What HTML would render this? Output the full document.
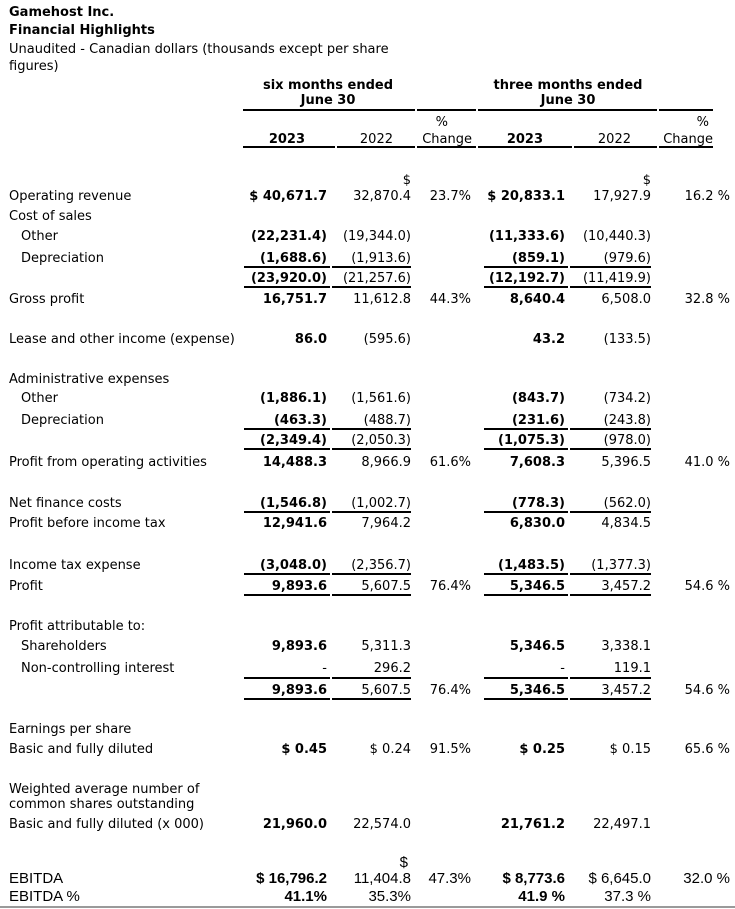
<!DOCTYPE html>
<html><head><meta charset="utf-8"><style>
body{margin:0;width:735px;height:909px;background:#fff;position:relative;overflow:hidden;font-family:"DejaVu Sans","Liberation Sans",sans-serif;font-size:13px;color:#000}
.t{position:absolute;line-height:16px;white-space:nowrap;margin-top:2px}
.b{font-weight:bold}
.l{position:absolute;height:2px;background:#000}
.d{position:absolute;height:2px;border-top:2px dotted #000;box-sizing:border-box}
.c{font-family:"Liberation Sans",sans-serif;font-size:15px}
</style></head><body>
<div class="t b" style="left:9px;top:3px">Gamehost Inc.</div>
<div class="t b" style="left:9px;top:21px">Financial Highlights</div>
<div class="t" style="left:9px;top:40px">Unaudited - Canadian dollars (thousands except per share</div>
<div class="t" style="left:9px;top:57px">figures)</div>

<div class="t b" style="left:243px;width:170px;text-align:center;top:76px">six months ended</div>
<div class="t b" style="left:243px;width:170px;text-align:center;top:91px">June 30</div>
<div class="t b" style="left:478px;width:180px;text-align:center;top:76px">three months ended</div>
<div class="t b" style="left:478px;width:180px;text-align:center;top:91px">June 30</div>

<div class="l" style="left:243px;width:170px;top:109px"></div><div class="d" style="left:413px;width:6px;top:109px"></div>
<div class="l" style="left:419px;width:55px;top:109px"></div><div class="d" style="left:474px;width:6px;top:109px"></div>
<div class="l" style="left:480px;width:175px;top:109px"></div><div class="d" style="left:655px;width:6px;top:109px"></div>
<div class="l" style="left:661px;width:52px;top:109px"></div>

<div class="t" style="right:287px;top:113px">%</div>
<div class="t" style="right:26px;top:113px">%</div>
<div class="t b" style="right:430px;top:130px">2023</div>
<div class="t" style="right:342px;top:130px">2022</div>
<div class="t" style="right:263px;top:130px">Change</div>
<div class="t b" style="right:192px;top:130px">2023</div>
<div class="t" style="right:104px;top:130px">2022</div>
<div class="t" style="right:22px;top:130px">Change</div>

<div class="l" style="left:243px;width:90px;top:146px"></div><div class="d" style="left:333px;width:6px;top:146px"></div>
<div class="l" style="left:339px;width:74px;top:146px"></div><div class="d" style="left:413px;width:6px;top:146px"></div>
<div class="l" style="left:419px;width:55px;top:146px"></div><div class="d" style="left:474px;width:6px;top:146px"></div>
<div class="l" style="left:480px;width:90px;top:146px"></div><div class="d" style="left:570px;width:6px;top:146px"></div>
<div class="l" style="left:576px;width:79px;top:146px"></div><div class="d" style="left:655px;width:6px;top:146px"></div>
<div class="l" style="left:661px;width:52px;top:146px"></div>

<div class="t" style="right:324px;top:171px">$</div>
<div class="t" style="right:84px;top:171px">$</div>
<div class="t" style="left:9px;top:187px">Operating revenue</div>
<div class="t b" style="right:408px;top:187px">$ 40,671.7</div>
<div class="t" style="right:324px;top:187px">32,870.4</div>
<div class="t" style="right:264px;top:187px">23.7%</div>
<div class="t b" style="right:170px;top:187px">$ 20,833.1</div>
<div class="t" style="right:84px;top:187px">17,927.9</div>
<div class="t" style="right:5px;top:187px">16.2 %</div>

<div class="t" style="left:9px;top:207px">Cost of sales</div>
<div class="t" style="left:21px;top:227px">Other</div>
<div class="t b" style="right:408px;top:227px">(22,231.4)</div>
<div class="t" style="right:324px;top:227px">(19,344.0)</div>
<div class="t b" style="right:170px;top:227px">(11,333.6)</div>
<div class="t" style="right:84px;top:227px">(10,440.3)</div>
<div class="t" style="left:21px;top:249px">Depreciation</div>
<div class="t b" style="right:408px;top:249px">(1,688.6)</div>
<div class="t" style="right:324px;top:249px">(1,913.6)</div>
<div class="t b" style="right:170px;top:249px">(859.1)</div>
<div class="t" style="right:84px;top:249px">(979.6)</div>
<div class="t b" style="right:408px;top:269px">(23,920.0)</div>
<div class="t" style="right:324px;top:269px">(21,257.6)</div>
<div class="t b" style="right:170px;top:269px">(12,192.7)</div>
<div class="t" style="right:84px;top:269px">(11,419.9)</div>
<div class="t" style="left:9px;top:290px">Gross profit</div>
<div class="t b" style="right:408px;top:290px">16,751.7</div>
<div class="t" style="right:324px;top:290px">11,612.8</div>
<div class="t" style="right:264px;top:290px">44.3%</div>
<div class="t b" style="right:170px;top:290px">8,640.4</div>
<div class="t" style="right:84px;top:290px">6,508.0</div>
<div class="t" style="right:5px;top:290px">32.8 %</div>

<div class="t" style="left:9px;top:330px">Lease and other income (expense)</div>
<div class="t b" style="right:408px;top:330px">86.0</div>
<div class="t" style="right:324px;top:330px">(595.6)</div>
<div class="t b" style="right:170px;top:330px">43.2</div>
<div class="t" style="right:84px;top:330px">(133.5)</div>

<div class="t" style="left:9px;top:370px">Administrative expenses</div>
<div class="t" style="left:21px;top:389px">Other</div>
<div class="t b" style="right:408px;top:389px">(1,886.1)</div>
<div class="t" style="right:324px;top:389px">(1,561.6)</div>
<div class="t b" style="right:170px;top:389px">(843.7)</div>
<div class="t" style="right:84px;top:389px">(734.2)</div>
<div class="t" style="left:21px;top:411px">Depreciation</div>
<div class="t b" style="right:408px;top:411px">(463.3)</div>
<div class="t" style="right:324px;top:411px">(488.7)</div>
<div class="t b" style="right:170px;top:411px">(231.6)</div>
<div class="t" style="right:84px;top:411px">(243.8)</div>
<div class="t b" style="right:408px;top:431px">(2,349.4)</div>
<div class="t" style="right:324px;top:431px">(2,050.3)</div>
<div class="t b" style="right:170px;top:431px">(1,075.3)</div>
<div class="t" style="right:84px;top:431px">(978.0)</div>
<div class="t" style="left:9px;top:453px">Profit from operating activities</div>
<div class="t b" style="right:408px;top:453px">14,488.3</div>
<div class="t" style="right:324px;top:453px">8,966.9</div>
<div class="t" style="right:264px;top:453px">61.6%</div>
<div class="t b" style="right:170px;top:453px">7,608.3</div>
<div class="t" style="right:84px;top:453px">5,396.5</div>
<div class="t" style="right:5px;top:453px">41.0 %</div>

<div class="t" style="left:9px;top:494px">Net finance costs</div>
<div class="t b" style="right:408px;top:494px">(1,546.8)</div>
<div class="t" style="right:324px;top:494px">(1,002.7)</div>
<div class="t b" style="right:170px;top:494px">(778.3)</div>
<div class="t" style="right:84px;top:494px">(562.0)</div>
<div class="t" style="left:9px;top:514px">Profit before income tax</div>
<div class="t b" style="right:408px;top:514px">12,941.6</div>
<div class="t" style="right:324px;top:514px">7,964.2</div>
<div class="t b" style="right:170px;top:514px">6,830.0</div>
<div class="t" style="right:84px;top:514px">4,834.5</div>

<div class="t" style="left:9px;top:556px">Income tax expense</div>
<div class="t b" style="right:408px;top:556px">(3,048.0)</div>
<div class="t" style="right:324px;top:556px">(2,356.7)</div>
<div class="t b" style="right:170px;top:556px">(1,483.5)</div>
<div class="t" style="right:84px;top:556px">(1,377.3)</div>
<div class="t" style="left:9px;top:577px">Profit</div>
<div class="t b" style="right:408px;top:577px">9,893.6</div>
<div class="t" style="right:324px;top:577px">5,607.5</div>
<div class="t" style="right:264px;top:577px">76.4%</div>
<div class="t b" style="right:170px;top:577px">5,346.5</div>
<div class="t" style="right:84px;top:577px">3,457.2</div>
<div class="t" style="right:5px;top:577px">54.6 %</div>

<div class="t" style="left:9px;top:617px">Profit attributable to:</div>
<div class="t" style="left:21px;top:637px">Shareholders</div>
<div class="t b" style="right:408px;top:637px">9,893.6</div>
<div class="t" style="right:324px;top:637px">5,311.3</div>
<div class="t b" style="right:170px;top:637px">5,346.5</div>
<div class="t" style="right:84px;top:637px">3,338.1</div>
<div class="t" style="left:21px;top:659px">Non-controlling interest</div>
<div class="t" style="right:408px;top:659px">-</div>
<div class="t" style="right:324px;top:659px">296.2</div>
<div class="t" style="right:170px;top:659px">-</div>
<div class="t" style="right:84px;top:659px">119.1</div>
<div class="t b" style="right:408px;top:681px">9,893.6</div>
<div class="t" style="right:324px;top:681px">5,607.5</div>
<div class="t" style="right:264px;top:681px">76.4%</div>
<div class="t b" style="right:170px;top:681px">5,346.5</div>
<div class="t" style="right:84px;top:681px">3,457.2</div>
<div class="t" style="right:5px;top:681px">54.6 %</div>

<div class="t" style="left:9px;top:720px">Earnings per share</div>
<div class="t" style="left:9px;top:740px">Basic and fully diluted</div>
<div class="t b" style="right:408px;top:740px">$ 0.45</div>
<div class="t" style="right:324px;top:740px">$ 0.24</div>
<div class="t" style="right:264px;top:740px">91.5%</div>
<div class="t b" style="right:170px;top:740px">$ 0.25</div>
<div class="t" style="right:84px;top:740px">$ 0.15</div>
<div class="t" style="right:5px;top:740px">65.6 %</div>

<div class="t" style="left:9px;top:780px">Weighted average number of</div>
<div class="t" style="left:9px;top:795px">common shares outstanding</div>
<div class="t" style="left:9px;top:815px">Basic and fully diluted (x 000)</div>
<div class="t b" style="right:408px;top:815px">21,960.0</div>
<div class="t" style="right:324px;top:815px">22,574.0</div>
<div class="t b" style="right:170px;top:815px">21,761.2</div>
<div class="t" style="right:84px;top:815px">22,497.1</div>

<div class="t c" style="right:327px;top:853px">$</div>
<div class="t c" style="left:9px;top:869px">EBITDA</div>
<div class="t c b" style="right:408px;top:869px">$ 16,796.2</div>
<div class="t c" style="right:324px;top:869px">11,404.8</div>
<div class="t c" style="right:264px;top:869px">47.3%</div>
<div class="t c b" style="right:170px;top:869px">$ 8,773.6</div>
<div class="t c" style="right:84px;top:869px">$ 6,645.0</div>
<div class="t c" style="right:5px;top:869px">32.0 %</div>
<div class="t c" style="left:9px;top:887px">EBITDA %</div>
<div class="t c b" style="right:408px;top:887px">41.1%</div>
<div class="t c" style="right:324px;top:887px">35.3%</div>
<div class="t c b" style="right:170px;top:887px">41.9 %</div>
<div class="t c" style="right:84px;top:887px">37.3 %</div>
<div style="position:absolute;left:0;top:906px;width:735px;height:2px;background:#9a9a9a"></div>

<div class="l" style="left:244px;width:84px;top:266px"></div><div class="d" style="left:328px;width:6px;top:266px"></div><div class="l" style="left:334px;width:77px;top:266px"></div>
<div class="l" style="left:484px;width:82px;top:266px"></div><div class="d" style="left:566px;width:6px;top:266px"></div><div class="l" style="left:572px;width:79px;top:266px"></div>
<div class="l" style="left:244px;width:84px;top:286px"></div><div class="d" style="left:328px;width:6px;top:286px"></div><div class="l" style="left:334px;width:77px;top:286px"></div>
<div class="l" style="left:484px;width:82px;top:286px"></div><div class="d" style="left:566px;width:6px;top:286px"></div><div class="l" style="left:572px;width:79px;top:286px"></div>

<div class="l" style="left:244px;width:84px;top:428px"></div><div class="d" style="left:328px;width:6px;top:428px"></div><div class="l" style="left:334px;width:77px;top:428px"></div>
<div class="l" style="left:484px;width:82px;top:428px"></div><div class="d" style="left:566px;width:6px;top:428px"></div><div class="l" style="left:572px;width:79px;top:428px"></div>
<div class="l" style="left:244px;width:84px;top:448px"></div><div class="d" style="left:328px;width:6px;top:448px"></div><div class="l" style="left:334px;width:77px;top:448px"></div>
<div class="l" style="left:484px;width:82px;top:448px"></div><div class="d" style="left:566px;width:6px;top:448px"></div><div class="l" style="left:572px;width:79px;top:448px"></div>

<div class="l" style="left:244px;width:84px;top:511px"></div><div class="d" style="left:328px;width:6px;top:511px"></div><div class="l" style="left:334px;width:77px;top:511px"></div>
<div class="l" style="left:484px;width:82px;top:511px"></div><div class="d" style="left:566px;width:6px;top:511px"></div><div class="l" style="left:572px;width:79px;top:511px"></div>

<div class="l" style="left:244px;width:84px;top:573px"></div><div class="d" style="left:328px;width:6px;top:573px"></div><div class="l" style="left:334px;width:77px;top:573px"></div>
<div class="l" style="left:484px;width:82px;top:573px"></div><div class="d" style="left:566px;width:6px;top:573px"></div><div class="l" style="left:572px;width:79px;top:573px"></div>
<div class="l" style="left:244px;width:84px;top:594px"></div><div class="d" style="left:328px;width:6px;top:594px"></div><div class="l" style="left:334px;width:77px;top:594px"></div>
<div class="l" style="left:484px;width:82px;top:594px"></div><div class="d" style="left:566px;width:6px;top:594px"></div><div class="l" style="left:572px;width:79px;top:594px"></div>

<div class="l" style="left:244px;width:84px;top:677px"></div><div class="d" style="left:328px;width:6px;top:677px"></div><div class="l" style="left:334px;width:77px;top:677px"></div>
<div class="l" style="left:484px;width:82px;top:677px"></div><div class="d" style="left:566px;width:6px;top:677px"></div><div class="l" style="left:572px;width:79px;top:677px"></div>
<div class="l" style="left:244px;width:84px;top:698px"></div><div class="d" style="left:328px;width:6px;top:698px"></div><div class="l" style="left:334px;width:77px;top:698px"></div>
<div class="l" style="left:484px;width:82px;top:698px"></div><div class="d" style="left:566px;width:6px;top:698px"></div><div class="l" style="left:572px;width:79px;top:698px"></div>
</body></html>
